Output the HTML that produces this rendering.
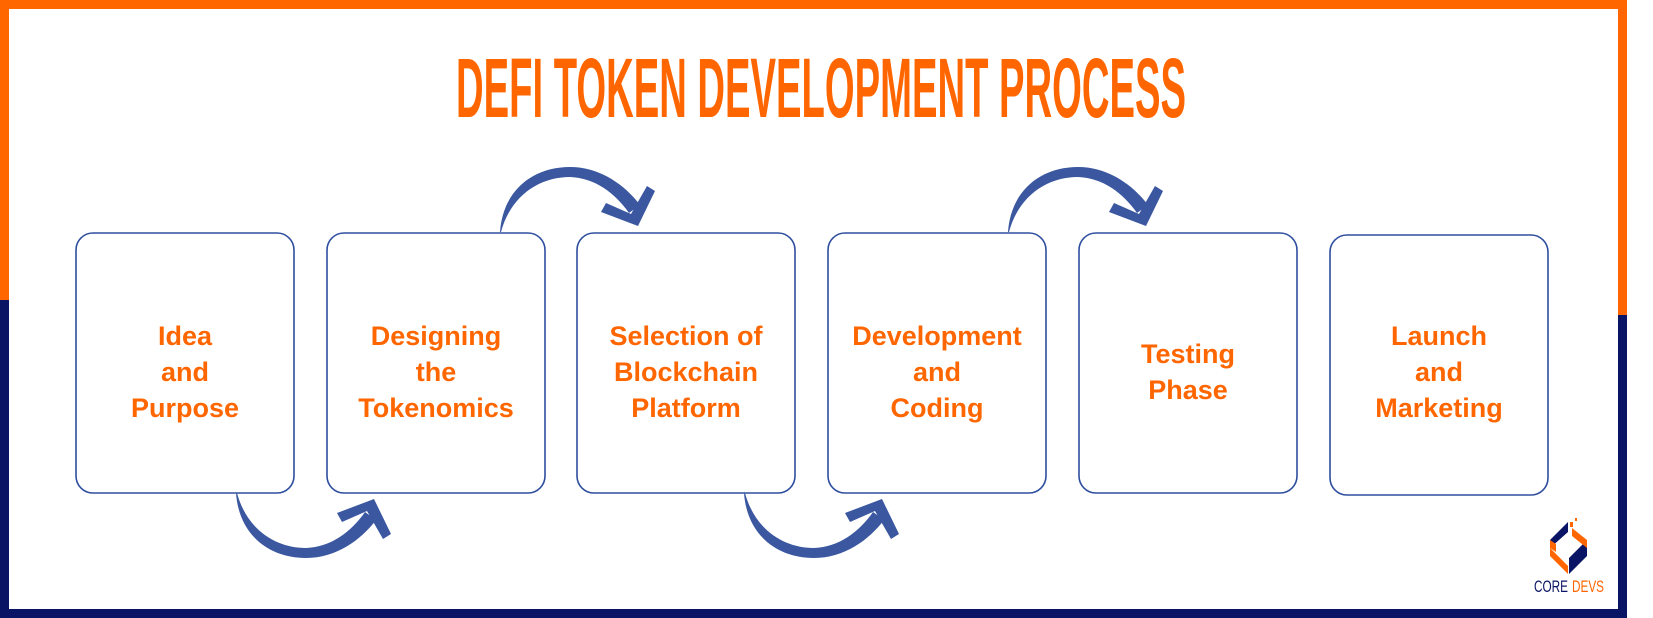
<!DOCTYPE html>
<html><head><meta charset="utf-8"><style>
html,body{margin:0;padding:0;background:#fff;}
svg{display:block;}
</style></head><body>
<svg width="1653" height="618" viewBox="0 0 1653 618" xmlns="http://www.w3.org/2000/svg">
<rect x="0" y="0" width="1653" height="618" fill="#fff"/>
<rect x="0" y="0" width="1627" height="9" fill="#FF6600"/>
<rect x="0" y="0" width="9" height="300" fill="#FF6600"/>
<rect x="0" y="300" width="9" height="318" fill="#0A1464"/>
<rect x="1618" y="0" width="9" height="315" fill="#FF6600"/>
<rect x="1618" y="315" width="9" height="303" fill="#0A1464"/>
<rect x="0" y="609" width="1627" height="9" fill="#0A1464"/>
<text x="456" y="117" font-family="Liberation Sans, sans-serif" font-weight="bold" font-size="84" fill="#FF6600" textLength="730" lengthAdjust="spacingAndGlyphs">DEFI TOKEN DEVELOPMENT PROCESS</text>
<g fill="none" stroke="#2E4E9E" stroke-width="1.6">
<rect x="76" y="233" width="218" height="260" rx="17"/>
<rect x="327" y="233" width="218" height="260" rx="17"/>
<rect x="577" y="233" width="218" height="260" rx="17"/>
<rect x="828" y="233" width="218" height="260" rx="17"/>
<rect x="1079" y="233" width="218" height="260" rx="17"/>
<rect x="1330" y="235" width="218" height="260" rx="17"/>
</g>
<g font-family="Liberation Sans, sans-serif" font-weight="bold" font-size="27" fill="#FF6600" text-anchor="middle">
<text x="185" y="345">Idea</text><text x="185" y="381">and</text><text x="185" y="417">Purpose</text>
<text x="436" y="345">Designing</text><text x="436" y="381">the</text><text x="436" y="417">Tokenomics</text>
<text x="686" y="345">Selection of</text><text x="686" y="381">Blockchain</text><text x="686" y="417">Platform</text>
<text x="937" y="345">Development</text><text x="937" y="381">and</text><text x="937" y="417">Coding</text>
<text x="1188" y="363">Testing</text><text x="1188" y="399">Phase</text>
<text x="1439" y="345">Launch</text><text x="1439" y="381">and</text><text x="1439" y="417">Marketing</text>
</g>
<defs>
<g id="arr" fill="#3A57A0">
<path d="M500,232 C503,190 533,167 570,167 C600,167 625,185 640,205 L629,213 C615,193 595,178 570,177 C540,177 511,195 501,232 Z"/>
<polygon points="638,226 601,212 606,203 631,214 647,186 655,191"/>
</g>
</defs>
<use href="#arr"/>
<use href="#arr" transform="translate(508,0)"/>
<use href="#arr" transform="translate(-264,725) scale(1,-1)"/>
<use href="#arr" transform="translate(244,725) scale(1,-1)"/>
<g>
<polygon points="1568,522 1550,540 1550,548 1568,532" fill="#0A1464"/>
<polygon points="1550,548 1568,566 1568,574 1550,556" fill="#FF6600"/>
<polygon points="1550,540 1556,544 1556,552 1550,548" fill="#FF6600"/>
<polygon points="1587,540 1569,558 1569,574 1587,556" fill="#0A1464"/>
<polygon points="1572,528 1587,540 1587,548 1572,536" fill="#FF6600"/>
<rect x="1570" y="522" width="3" height="5" fill="#FF6600"/>
<rect x="1575" y="518" width="2" height="3" fill="#FF6600"/>
<text x="1534" y="592" font-family="Liberation Sans, sans-serif" font-size="17" fill="#0A1464" textLength="34" lengthAdjust="spacingAndGlyphs">CORE</text>
<text x="1572" y="592" font-family="Liberation Sans, sans-serif" font-size="17" fill="#FF6600" textLength="32" lengthAdjust="spacingAndGlyphs">DEVS</text>
</g>
</svg>
</body></html>
